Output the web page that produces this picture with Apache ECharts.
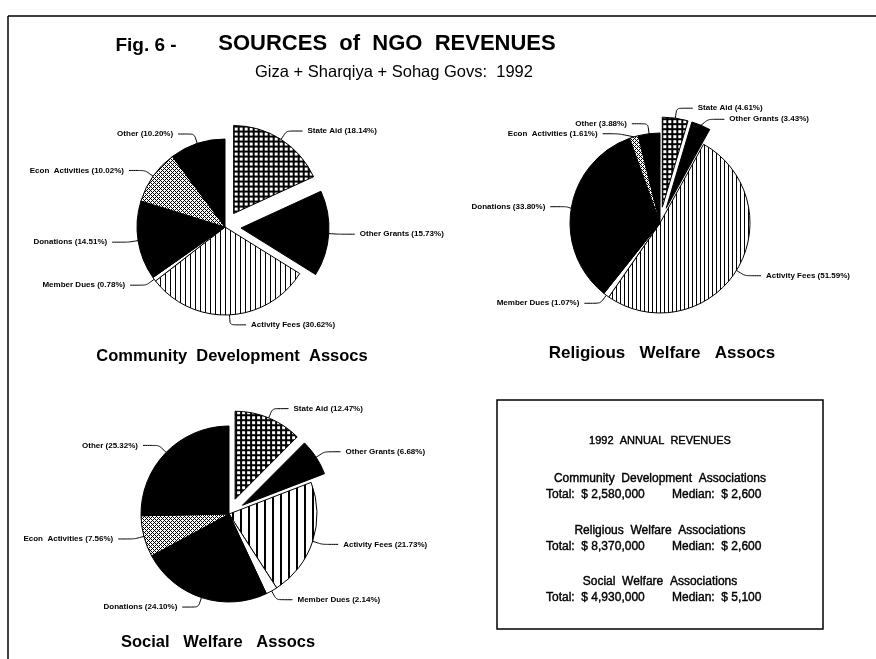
<!DOCTYPE html>
<html>
  <head>
    <meta charset="utf-8" />
    <title>Sources of NGO Revenues</title>
    <style>
      body {
        margin: 0;
        padding: 0;
        background: #fff;
      }
      #main {
        width: 876px;
        height: 659px;
      }
    </style>
    <script src="https://cdn.jsdelivr.net/npm/echarts@6/dist/echarts.min.js"></script>
  </head>

  <body>
    <div id="main"></div>
  </body>
  <script>
    // categories, same order in each pie (clockwise from 12 o'clock)
    let categories = [
      "State Aid",
      "Other Grants",
      "Activity Fees",
      "Member Dues",
      "Donations",
      "Econ  Activities",
      "Other",
    ];
    // percent shares per association type
    let communityDev = [18.14, 15.73, 30.62, 0.78, 14.51, 10.02, 10.2];
    let religiousWelfare = [4.61, 3.43, 51.59, 1.07, 33.8, 1.61, 3.88];
    let socialWelfare = [12.47, 6.68, 21.73, 2.14, 24.1, 7.56, 25.32];
    let pieTitles = [
      "Community  Development  Assocs",
      "Religious   Welfare   Assocs",
      "Social   Welfare   Assocs",
    ];

    // annual revenues box
    let boxHeading = "1992  ANNUAL  REVENUES";
    let boxNames = [
      "Community  Development  Associations",
      "Religious  Welfare  Associations",
      "Social  Welfare  Associations",
    ];
    let boxTotals = ["$ 2,580,000", "$ 8,370,000", "$ 4,930,000"];
    let boxMedians = ["$ 2,600", "$ 2,600", "$ 5,100"];

    const FONT = '"Liberation Sans", Arial, sans-serif';

    // little canvas tiles standing in for the printed hatch patterns
    function tile(kind, step) {
      let cv = document.createElement("canvas");
      let ctx = cv.getContext("2d");
      if (kind === "grid") {
        cv.width = cv.height = step;
        ctx.fillStyle = "#000";
        ctx.fillRect(0, 0, step, step);
        ctx.fillStyle = "#fff";
        ctx.fillRect(1, 1, step - 2, step - 2);
      } else if (kind === "vlines") {
        cv.width = step;
        cv.height = 2;
        ctx.fillStyle = "#fff";
        ctx.fillRect(0, 0, step, 2);
        ctx.fillStyle = "#000";
        ctx.fillRect(0, 0, step > 5 ? 2 : 1, 2);
      } else {
        cv.width = cv.height = 4;
        ctx.fillStyle = "#fff";
        ctx.fillRect(0, 0, 4, 4);
        ctx.fillStyle = "#000";
        for (let x = 0; x < 4; x++)
          for (let y = 0; y < 4; y++)
            if ((x + y) % 4 === 0 || (x - y + 4) % 4 === 0) ctx.fillRect(x, y, 1, 1);
      }
      return { image: cv, repeat: "repeat" };
    }

    function pieSeries(values, center, radius, lineStep) {
      let fills = [
        tile("grid", 5),
        "#000",
        tile("vlines", lineStep),
        "#fff",
        "#000",
        tile("dots"),
        "#000",
      ];
      return {
        type: "pie",
        center: center,
        radius: radius,
        startAngle: 90,
        clockwise: true,
        selectedMode: "multiple",
        selectedOffset: 16,
        avoidLabelOverlap: true,
        silent: true,
        itemStyle: { borderColor: "#000", borderWidth: 1 },
        label: {
          color: "#000",
          fontSize: 8,
          fontWeight: "bold",
          fontFamily: FONT,
          formatter: (p) => `${p.name} (${p.value.toFixed(2)}%)`,
        },
        labelLine: {
          length: 10,
          length2: 16,
          smooth: 0.2,
          lineStyle: { color: "#000", width: 1 },
        },
        emphasis: { disabled: true },
        data: categories.map((name, i) => ({
          name: name,
          value: values[i],
          selected: i < 2,
          itemStyle: { color: fills[i] },
        })),
      };
    }

    function txt(x, y, text, font, align, heavy) {
      return {
        type: "text",
        x: x,
        y: y,
        silent: true,
        style: {
          text: text,
          font: font,
          fill: "#000",
          stroke: heavy ? "#000" : null,
          lineWidth: heavy ? 0.4 : 0,
          align: align || "center",
          verticalAlign: "middle",
        },
      };
    }

    let graphics = [
      // page frame: top and left rules only
      { type: "line", shape: { x1: 8, y1: 16, x2: 876, y2: 16 }, style: { stroke: "#000", lineWidth: 1.5 } },
      { type: "line", shape: { x1: 8, y1: 16, x2: 8, y2: 659 }, style: { stroke: "#000", lineWidth: 1.5 } },
      txt(146, 46, "Fig. 6 -", "bold 19px " + FONT),
      txt(387, 44, "SOURCES  of  NGO  REVENUES", "bold 22px " + FONT),
      txt(394, 72, "Giza + Sharqiya + Sohag Govs:  1992", "16.5px " + FONT),
      txt(232, 356, pieTitles[0], "bold 16.5px " + FONT),
      txt(662, 353, pieTitles[1], "bold 17px " + FONT),
      txt(218, 642, pieTitles[2], "bold 16.5px " + FONT),
      {
        type: "rect",
        shape: { x: 497, y: 400, width: 326, height: 229 },
        style: { fill: "none", stroke: "#000", lineWidth: 1.5 },
      },
      txt(660, 441, boxHeading, "11px " + FONT, "center", true),
    ];
    boxNames.forEach((name, i) => {
      let y = 479 + i * 51.5;
      graphics.push(txt(660, y, name, "12px " + FONT, "center", true));
      graphics.push(txt(546, y + 16, "Total:  " + boxTotals[i], "12px " + FONT, "left", true));
      graphics.push(txt(672, y + 16, "Median:  " + boxMedians[i], "12px " + FONT, "left", true));
    });

    let myChart = echarts.init(document.getElementById("main"));
    myChart.setOption({
      backgroundColor: "#fff",
      animation: false,
      graphic: graphics,
      series: [
        pieSeries(communityDev, [225, 227], 88, 5),
        pieSeries(religiousWelfare, [660, 223], 90, 4),
        pieSeries(socialWelfare, [229, 514], 88, 8),
      ],
    });
  </script>
</html>
